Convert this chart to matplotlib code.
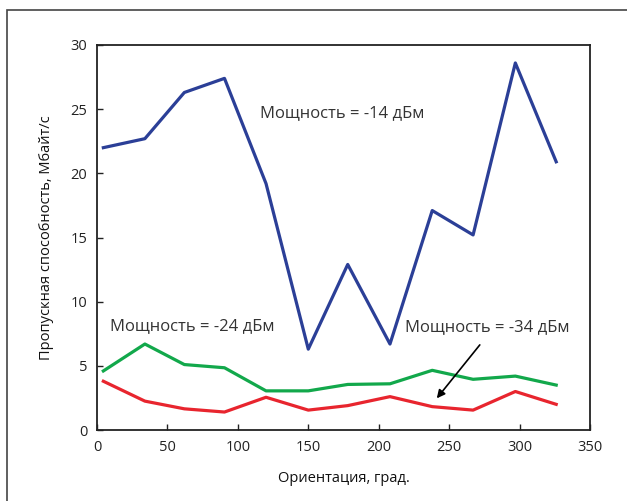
import matplotlib
matplotlib.use("Agg")
import matplotlib.pyplot as plt
from matplotlib.patches import Rectangle

plt.rcParams['font.family'] = ['Open Sans', 'DejaVu Sans']

angles = [4.5, 34, 62, 90.5, 120, 150, 178, 208, 238, 267, 297, 326]
p14 = [22.0, 22.7, 26.3, 27.4, 19.2, 6.3, 12.9, 6.7, 17.1, 15.2, 28.6, 20.9]
p24 = [4.6, 6.7, 5.1, 4.85, 3.05, 3.05, 3.55, 3.6, 4.65, 3.95, 4.2, 3.5]
p34 = [3.8, 2.25, 1.65, 1.4, 2.55, 1.55, 1.9, 2.6, 1.82, 1.55, 3.0, 2.0]

xticks = [0, 50, 100, 150, 200, 250, 300, 350]
yticks = [0, 5, 10, 15, 20, 25, 30]

fig = plt.figure(figsize=(6.27, 5.01), dpi=100)
W, H = 627, 501
ax = fig.add_axes([97 / W, 1 - 430 / H, (590 - 97) / W, (430 - 45) / H])

ax.plot(angles, p14, color='#2b3f97', lw=2.3)
ax.plot(angles, p24, color='#12a84b', lw=2.3)
ax.plot(angles, p34, color='#e8252e', lw=2.3)

ax.set_xlim(0, 350)
ax.set_ylim(0, 30)
ax.set_xticks(xticks)
ax.set_yticks(yticks)
ax.tick_params(direction='in', length=4, width=1, labelsize=10.5, colors='#222222', pad=7)
for s in ax.spines.values():
    s.set_linewidth(1.3)
    s.set_color('#222222')

tc = '#333333'
ax.text(116, 24.7, 'Мощность = -14 дБм', fontsize=12, color=tc, va='center', ha='left')
ax.text(9, 8.1, 'Мощность = -24 дБм', fontsize=12, color=tc, va='center', ha='left')
ax.text(219, 8.0, 'Мощность = -34 дБм', fontsize=12, color=tc, va='center', ha='left')
ax.annotate('', xy=(240, 2.3), xytext=(273, 6.8),
            arrowprops=dict(arrowstyle='-|>', color='black', lw=1.2, mutation_scale=12))

ax.set_xlabel('Ориентация, град.', fontsize=10.5, color='#111111', labelpad=12)
ax.set_ylabel('Пропускная способность, Мбайт/с', fontsize=10.5, color='#111111', labelpad=12)

fig.patches.append(Rectangle((7 / W, -0.05), 1.1, 1 - 10 / H + 0.05, transform=fig.transFigure,
                             fill=False, edgecolor='#444444', lw=1.2))

fig.savefig('out.png', dpi=100)
